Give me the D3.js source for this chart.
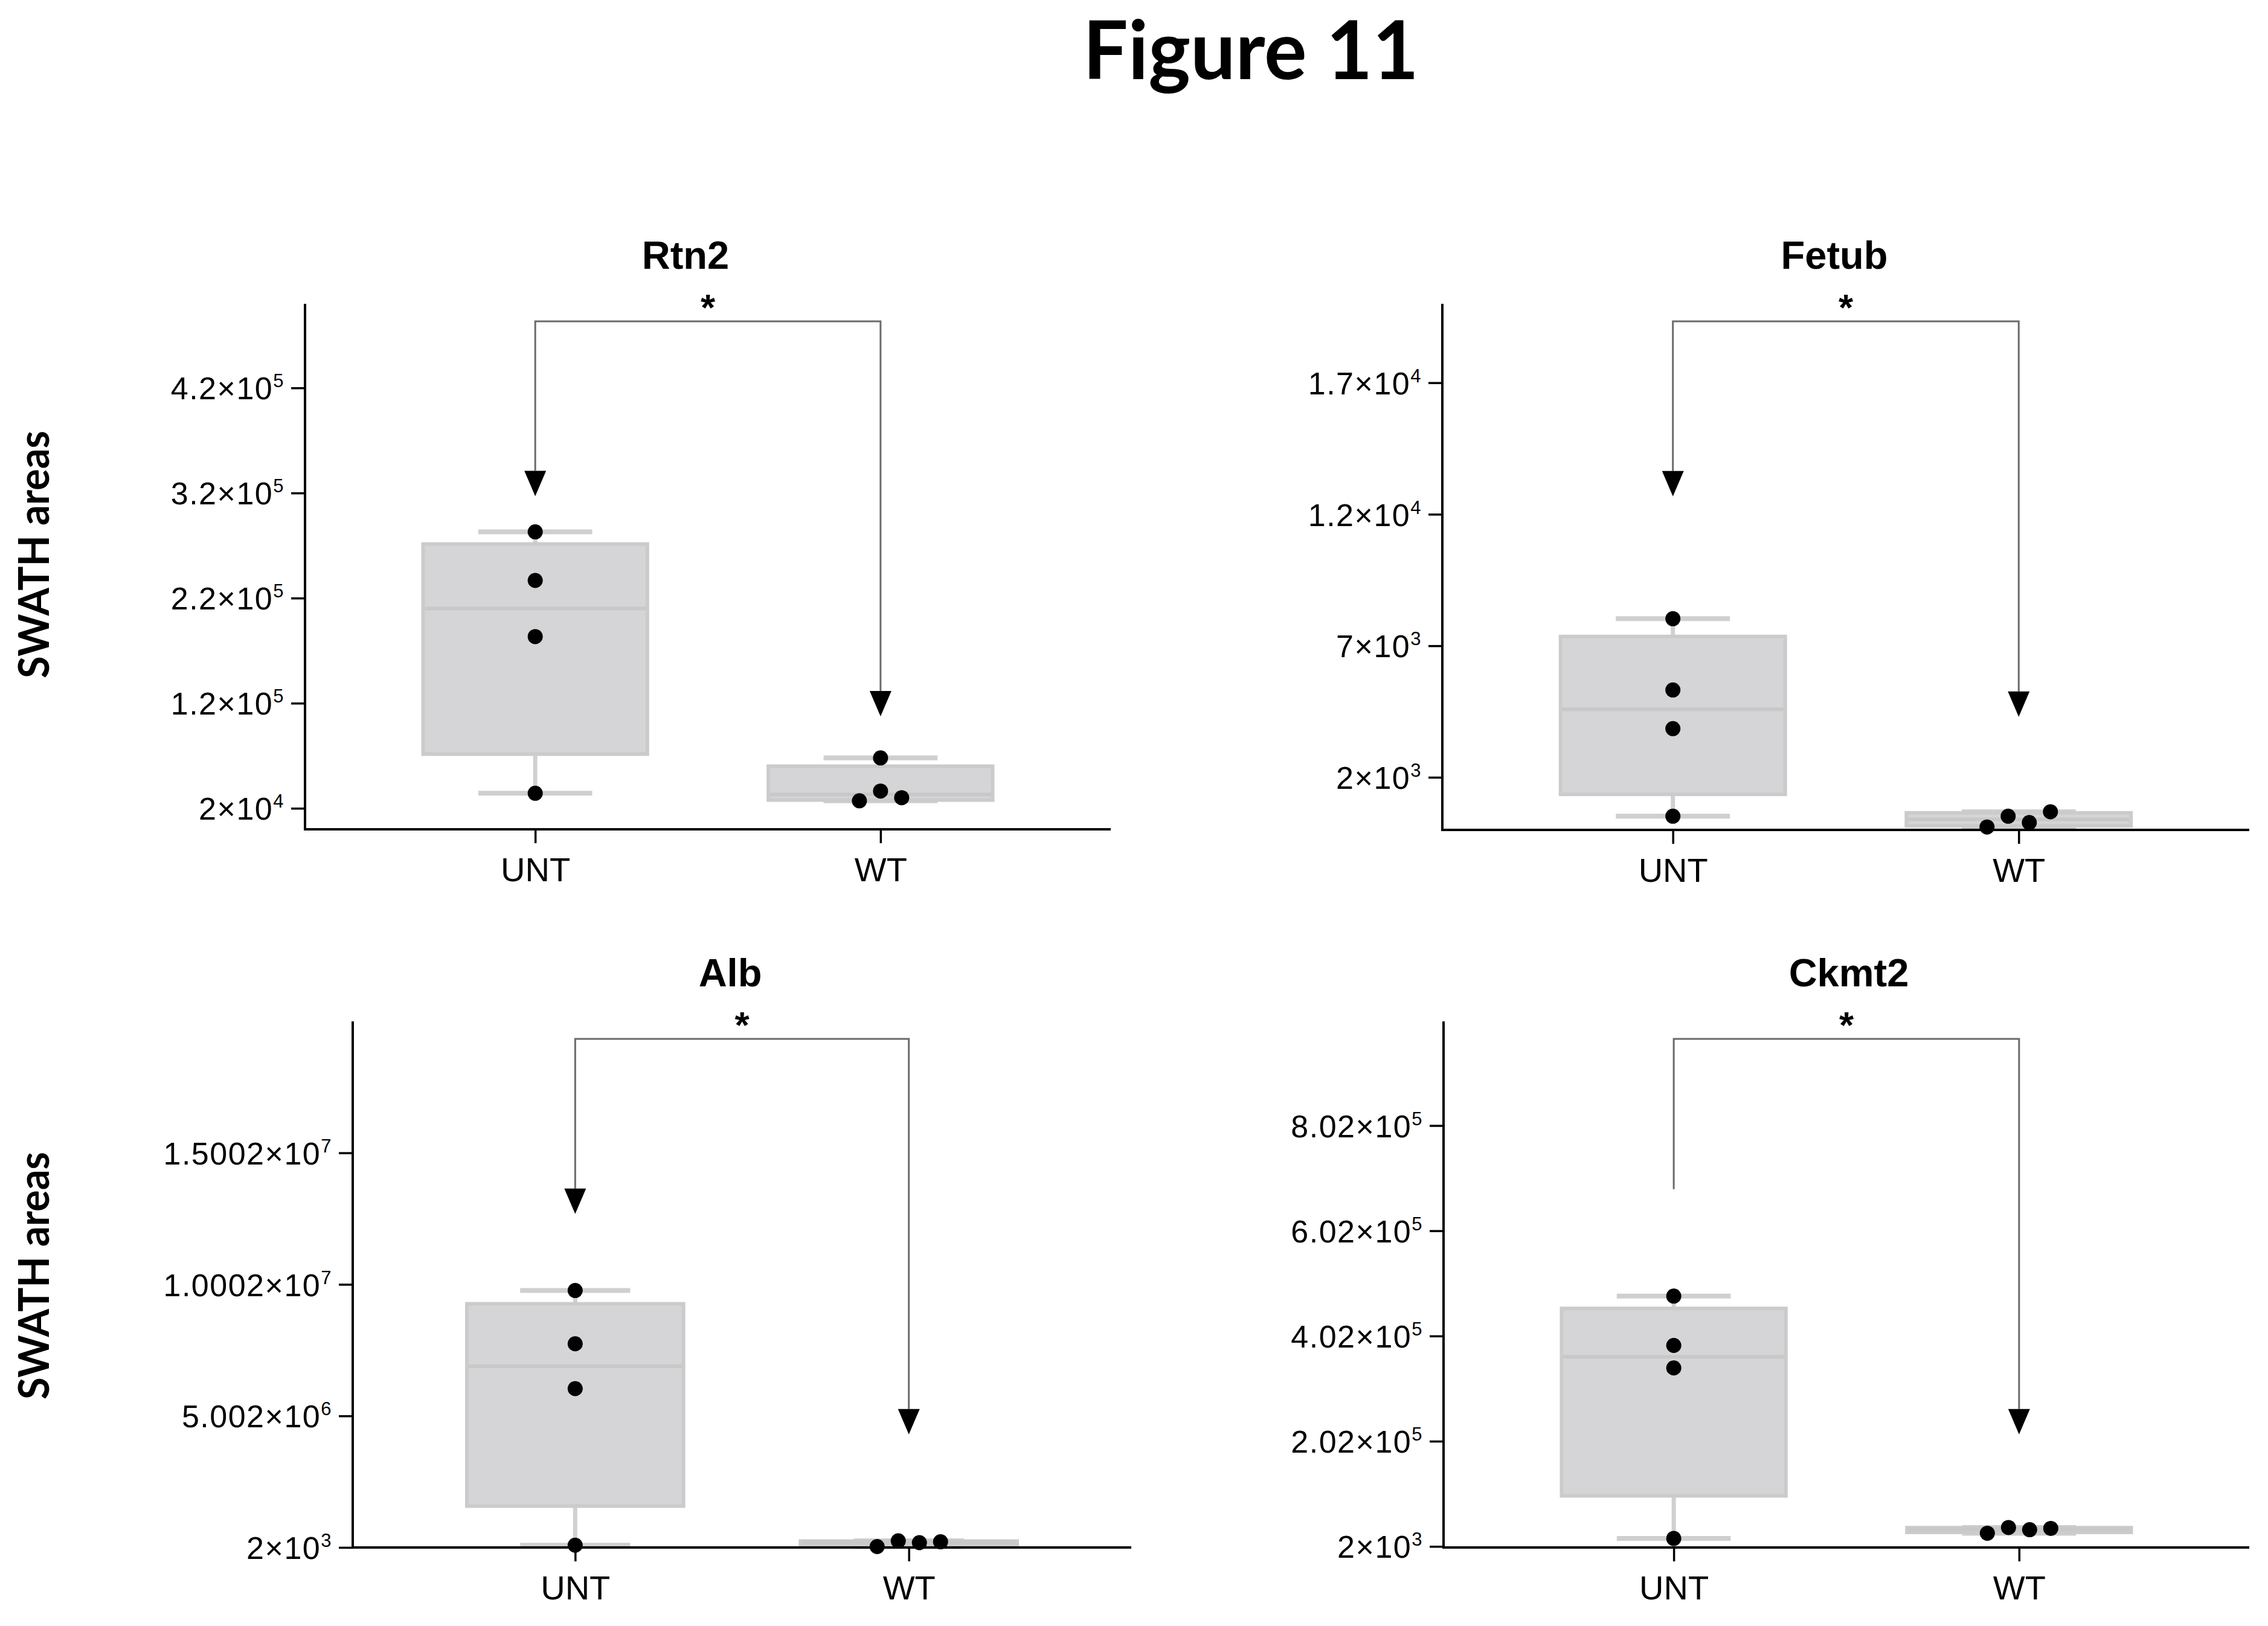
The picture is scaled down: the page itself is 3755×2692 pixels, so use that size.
<!DOCTYPE html>
<html><head><meta charset="utf-8">
<script src="https://cdn.jsdelivr.net/npm/d3@7"></script>
<style>body{margin:0;background:#fff}</style>
</head><body>
<svg id="chart" width="3755" height="2692"></svg>
<script>
// ---------------- data ----------------
const figTitle = "Figure 11";
const yTitle = "SWATH areas";
const proteins = ["Rtn2", "Fetub", "Alb", "Ckmt2"];
const groups = ["UNT", "WT"];
const significance = ["*", "*", "*", "*"];

const rtn2UNT = [283000, 236800, 183400, 34300];
const rtn2WT = [67900, 27100, 36400, 30100];
const fetubUNT = [8030, 5320, 3850, 520];
const fetubWT = [110, 520, 280, 690];
const albUNT = [9768000, 7744000, 6039000, 86000];
const albWT = [35000, 251000, 184000, 217000];
const ckmt2UNT = [477800, 384000, 341300, 17100];
const ckmt2WT = [27100, 38000, 33800, 36300];

const yMax = [500000, 20000, 20000000, 1000000];
const rtn2Ticks = [20000, 120000, 220000, 320000, 420000];
const fetubTicks = [2000, 7000, 12000, 17000];
const albTicks = [2000, 5002000, 10002000, 15002000];
const ckmt2Ticks = [2000, 202000, 402000, 602000, 802000];

const seriesUNT = [rtn2UNT, fetubUNT, albUNT, ckmt2UNT];
const seriesWT = [rtn2WT, fetubWT, albWT, ckmt2WT];
const tickSets = [rtn2Ticks, fetubTicks, albTicks, ckmt2Ticks];

// ---------------- layout ----------------
const frames = [
  {l: 505, r: 1839, t: 503, b: 1373, titleX: 1135, untArrow: true},
  {l: 2388, r: 3724, t: 503, b: 1374, titleX: 3037, untArrow: true},
  {l: 584, r: 1873, t: 1691, b: 2562, titleX: 1209, untArrow: true},
  {l: 2390, r: 3724, t: 1691, b: 2562, titleX: 3061, untArrow: false}
];
const ylabelPos = [{x: 56, y: 918}, {x: 56, y: 2112}];

const svg = d3.select("#chart");
const ARIAL = "'Liberation Sans', Arial, Helvetica, sans-serif";
const CAL = "Lato, 'Open Sans', sans-serif";

// figure title
svg.append("text").attr("x", 2071).attr("y", 131)
  .attr("text-anchor", "middle").attr("font-family", CAL).attr("font-weight", 700)
  .attr("font-size", 134).attr("textLength", 556).attr("lengthAdjust", "spacingAndGlyphs")
  .attr("fill", "#000").text(figTitle);

ylabelPos.forEach(p => {
  svg.append("text").attr("transform", `translate(${p.x + 25},${p.y}) rotate(-90)`)
    .attr("text-anchor", "middle").attr("font-family", CAL).attr("font-weight", 700)
    .attr("font-size", 70).attr("textLength", 410).attr("lengthAdjust", "spacingAndGlyphs")
    .attr("fill", "#000").text(yTitle);
});

function quant(sorted, p) {
  const n = sorted.length;
  let h = (n + 1) * p - 1;
  h = Math.max(0, Math.min(n - 1, h));
  const lo = Math.floor(h), hi = Math.min(n - 1, lo + 1);
  return sorted[lo] + (h - lo) * (sorted[hi] - sorted[lo]);
}

function dotOffsets(vals, y, thr) {
  const idx = vals.map((v, i) => i).sort((a, b) => vals[a] - vals[b]);
  const clusters = [];
  let cur = [idx[0]];
  for (let k = 1; k < idx.length; k++) {
    if (y(vals[idx[k - 1]]) - y(vals[idx[k]]) < thr) cur.push(idx[k]);
    else { clusters.push(cur); cur = [idx[k]]; }
  }
  clusters.push(cur);
  const off = new Array(vals.length).fill(0);
  clusters.forEach(c => {
    c.sort((a, b) => a - b);
    c.forEach((ii, j) => off[ii] = j - (c.length - 1) / 2);
  });
  return off;
}

function fmtLabel(sel) {
  sel.each(function(v) {
    const e = Math.floor(Math.log10(v) + 1e-9);
    const m = +(v / Math.pow(10, e)).toPrecision(8);
    const t = d3.select(this);
    t.text(null);
    t.append("tspan").text(m + "×10");
    t.append("tspan").attr("font-size", 31).attr("dy", -20).text(e);
  });
}

proteins.forEach((name, i) => {
  const f = frames[i];
  const W = f.r - f.l, H = f.b - f.t;
  const g = svg.append("g").attr("transform", `translate(${f.l},${f.t})`);
  const x = d3.scalePoint().domain(groups).range([0, W]).padding(2 / 3);
  const y = d3.scaleLinear().domain([0, yMax[i]]).range([H, 0]);
  const step = x.step();
  const boxW = step * 0.66;
  const data = [seriesUNT[i], seriesWT[i]];

  // panel title
  svg.append("text").attr("x", f.titleX).attr("y", f.t - 58)
    .attr("text-anchor", "middle").attr("font-family", ARIAL).attr("font-weight", 700)
    .attr("font-size", 65).attr("fill", "#000").text(name);

  // boxes
  groups.forEach((grp, k) => {
    const vals = data[k];
    const s = vals.slice().sort((a, b) => a - b);
    const q1 = quant(s, 0.25), med = quant(s, 0.5), q3 = quant(s, 0.75);
    const mn = s[0], mx = s[s.length - 1];
    const cx = x(grp);
    const bg = g.append("g");
    bg.append("line").attr("x1", cx).attr("x2", cx).attr("y1", y(mx)).attr("y2", y(mn))
      .attr("stroke", "#d0d0d0").attr("stroke-width", 7);
    [mn, mx].forEach(v => {
      bg.append("line").attr("x1", cx - boxW / 4).attr("x2", cx + boxW / 4)
        .attr("y1", y(v)).attr("y2", y(v)).attr("stroke", "#cfcfcf").attr("stroke-width", 8);
    });
    bg.append("rect").attr("x", cx - boxW / 2 + 3).attr("width", boxW - 6)
      .attr("y", y(q3)).attr("height", Math.max(1, y(q1) - y(q3)))
      .attr("fill", "#d5d5d7").attr("stroke", "#cbcbcb").attr("stroke-width", 6);
    bg.append("line").attr("x1", cx - boxW / 2 + 6).attr("x2", cx + boxW / 2 - 6)
      .attr("y1", y(med)).attr("y2", y(med)).attr("stroke", "#c8c8c8").attr("stroke-width", 6);
  });

  // axes
  const ya = g.append("g").call(d3.axisLeft(y).tickValues(tickSets[i]).tickSize(23).tickSizeOuter(0).tickPadding(11));
  ya.select(".domain").attr("stroke", "#000").attr("stroke-width", 4);
  ya.selectAll(".tick line").attr("stroke", "#000").attr("stroke-width", 3.5);
  ya.selectAll(".tick text").attr("font-family", ARIAL).attr("font-size", 52)
    .attr("letter-spacing", 1.5).attr("fill", "#000").attr("dy", "0.36em").call(fmtLabel);

  const xa = g.append("g").attr("transform", `translate(0,${H})`)
    .call(d3.axisBottom(x).tickSize(23).tickSizeOuter(0));
  xa.select(".domain").attr("stroke", "#000").attr("stroke-width", 4).attr("d", `M-2,0H${W}`);
  xa.selectAll(".tick line").attr("stroke", "#000").attr("stroke-width", 3.5);
  xa.selectAll(".tick text").attr("font-family", ARIAL).attr("font-size", 56)
    .attr("fill", "#000").attr("y", 86).attr("dy", 0);
  ya.select(".domain").attr("d", `M0,${H + 2}V0`);

  // significance bracket
  const by = 29, aH = 42, aW = 36;
  const tipU = H * 0.366, tipW = H * 0.785;
  const x0 = x(groups[0]), x1 = x(groups[1]);
  const leftEnd = f.untArrow ? tipU - aH : H * 0.319;
  g.append("path").attr("d", `M${x0},${leftEnd}V${by}H${x1}V${tipW - aH}`)
    .attr("fill", "none").attr("stroke", "#6b6b6b").attr("stroke-width", 3);
  const heads = f.untArrow ? [[x0, tipU], [x1, tipW]] : [[x1, tipW]];
  heads.forEach(([ax, ay]) => {
    g.append("path").attr("d", `M${ax - aW / 2},${ay - aH}L${ax + aW / 2},${ay - aH}L${ax},${ay}Z`)
      .attr("fill", "#000");
  });
  g.append("text").attr("x", (x0 + x1) / 2).attr("y", by - 2).attr("text-anchor", "middle")
    .attr("font-family", ARIAL).attr("font-weight", 700).attr("font-size", 62).attr("fill", "#000").text(significance[i]);

  // points
  groups.forEach((grp, k) => {
    const vals = data[k];
    const off = dotOffsets(vals, y, 24);
    g.append("g").selectAll("circle").data(vals).join("circle")
      .attr("cx", (d, j) => x(grp) + off[j] * 35)
      .attr("cy", d => y(d)).attr("r", 12.5).attr("fill", "#000");
  });
});
</script>
</body></html>
